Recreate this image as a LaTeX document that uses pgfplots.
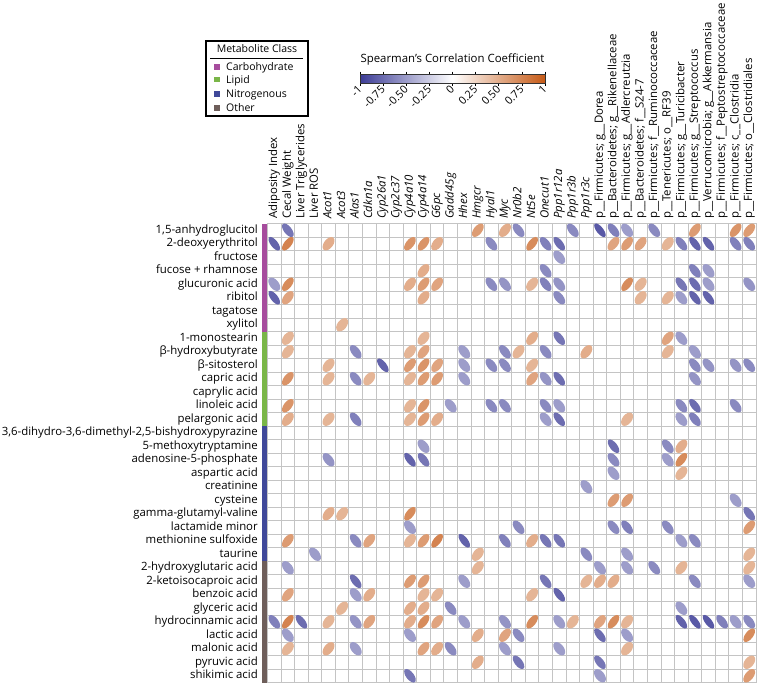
\documentclass[border=0pt]{standalone}
\usepackage{fontspec}
\setmainfont{Open Sans}
\usepackage{pgfplots}
\usepackage{pgfplotstable}
\pgfplotsset{compat=1.18}
\definecolor{gridgray}{RGB}{196,196,196}
\definecolor{carb}{RGB}{166,76,157}
\definecolor{lipid}{RGB}{122,182,72}
\definecolor{nitro}{RGB}{63,72,153}
\definecolor{other}{RGB}{110,94,90}
\newcommand{\lf}{\fontsize{10.5bp}{12bp}\selectfont}
\newcommand{\tf}{\fontsize{11.4bp}{13bp}\selectfont}
\newcommand{\cf}{\fontsize{10.8bp}{12bp}\selectfont}
\pgfdeclareplotmark{corrEll}{%
  \pgfpathellipse{\pgfpointorigin}%
    {\pgfpointpolar{\ellAng}{\ellA bp}}%
    {\pgfpointpolar{\ellAngB}{\ellB bp}}%
  \pgfusepathqfill}
\pgfplotstableread{
c rw r
2 1 -0.7
16 1 0.6
18 1 0.5
19 1 -0.6
23 1 -0.6
25 1 -0.85
26 1 -0.65
27 1 -0.5
29 1 -0.6
32 1 0.6
35 1 0.65
36 1 0.6
1 2 -0.8
2 2 0.75
5 2 0.5
11 2 0.65
12 2 0.65
13 2 0.5
17 2 -0.6
20 2 0.7
21 2 -0.65
22 2 -0.75
26 2 0.55
27 2 0.6
28 2 0.55
30 2 0.45
31 2 -0.65
32 2 -0.8
33 2 -0.8
35 2 -0.65
36 2 -0.65
22 3 -0.5
12 4 0.5
21 4 -0.6
32 4 -0.65
33 4 -0.5
1 5 -0.5
2 5 0.7
11 5 0.5
12 5 0.6
13 5 0.55
17 5 -0.6
18 5 -0.55
20 5 0.45
21 5 -0.65
22 5 -0.55
27 5 0.7
28 5 0.45
31 5 -0.7
32 5 -0.75
33 5 -0.5
36 5 -0.55
1 6 -0.8
2 6 0.55
12 6 0.5
22 6 -0.6
28 6 0.45
30 6 0.45
31 6 -0.5
32 6 -0.8
33 6 -0.8
6 8 0.45
2 9 0.45
12 9 0.45
20 9 0.5
22 9 -0.7
30 9 0.55
31 9 -0.5
2 10 0.45
7 10 -0.6
11 10 0.45
12 10 0.55
15 10 -0.5
18 10 -0.6
19 10 0.45
21 10 -0.6
24 10 0.5
30 10 0.45
32 10 -0.5
5 11 0.45
9 11 -0.8
11 11 0.6
12 11 0.65
13 11 0.55
15 11 -0.5
17 11 -0.6
18 11 -0.6
20 11 0.45
32 11 -0.6
33 11 -0.55
35 11 -0.55
36 11 -0.6
2 12 0.65
5 12 0.45
7 12 -0.6
8 12 0.45
11 12 0.45
12 12 0.6
13 12 0.6
15 12 -0.5
20 12 0.55
21 12 -0.55
22 12 -0.75
32 12 -0.55
2 14 0.65
11 14 0.45
12 14 0.65
14 14 -0.5
17 14 -0.6
18 14 -0.6
21 14 -0.6
22 14 -0.5
31 14 -0.6
32 14 -0.75
35 14 -0.6
2 15 0.5
5 15 0.45
7 15 -0.65
11 15 0.45
12 15 0.6
13 15 0.5
21 15 -0.5
22 15 -0.75
27 15 0.45
31 15 -0.5
32 15 -0.65
12 17 -0.5
26 17 -0.75
30 17 -0.6
31 17 0.5
5 18 -0.55
11 18 -0.8
12 18 -0.7
26 18 -0.6
30 18 -0.5
31 18 0.7
26 19 -0.5
31 19 0.45
24 20 -0.5
26 21 0.6
27 21 0.6
35 21 -0.5
5 22 0.5
6 22 0.45
11 22 0.7
36 22 -0.7
11 23 -0.5
19 23 -0.6
26 23 -0.6
27 23 -0.65
30 23 -0.6
36 23 0.6
2 24 0.6
7 24 -0.6
8 24 0.55
11 24 0.45
12 24 0.6
13 24 0.75
15 24 -0.8
18 24 -0.65
20 24 0.5
21 24 -0.7
22 24 -0.7
31 24 -0.5
32 24 -0.6
4 25 -0.5
16 25 0.45
24 25 -0.6
27 25 -0.5
36 25 0.45
2 26 -0.5
16 26 0.45
25 26 -0.5
27 26 -0.5
29 26 -0.6
31 26 0.45
36 26 0.45
7 27 -0.75
11 27 0.6
12 27 0.6
15 27 -0.5
21 27 -0.7
24 27 0.45
25 27 0.5
26 27 0.5
32 27 -0.6
36 27 -0.5
2 28 0.55
7 28 -0.5
8 28 0.5
12 28 0.45
13 28 0.45
20 28 0.45
22 28 -0.8
6 29 0.45
11 29 0.5
12 29 0.5
14 29 -0.6
31 29 -0.5
1 30 -0.65
2 30 0.75
3 30 -0.75
5 30 0.45
7 30 -0.55
8 30 0.55
11 30 0.5
12 30 0.7
13 30 0.55
15 30 -0.5
18 30 -0.55
20 30 0.7
22 30 -0.5
23 30 0.45
25 30 0.55
26 30 0.7
27 30 0.45
31 30 -0.8
32 30 -0.85
33 30 -0.85
34 30 -0.65
35 30 -0.5
36 30 -0.6
2 31 -0.5
11 31 -0.5
16 31 0.5
18 31 0.55
19 31 -0.6
25 31 -0.75
27 31 -0.5
36 31 0.7
2 32 0.45
5 32 0.5
7 32 -0.5
12 32 0.55
13 32 0.5
14 32 -0.6
18 32 -0.5
22 32 -0.5
27 32 0.45
16 33 0.5
19 33 -0.7
25 33 -0.7
36 33 0.45
11 34 -0.7
25 34 -0.5
36 34 0.6
}\corrdata
\begin{document}
\begin{tikzpicture}
\useasboundingbox (0,0) rectangle (757bp,-686bp);
% category bar
\fill[carb]  (262bp,-223.5bp) rectangle (266.5bp,-331.5bp);
\fill[lipid] (262bp,-331.5bp) rectangle (266.5bp,-426bp);
\fill[nitro] (262bp,-426bp) rectangle (266.5bp,-561bp);
\fill[other] (262bp,-561bp) rectangle (266.5bp,-682.5bp);
\begin{axis}[
  at={(511.75bp,-453bp)}, anchor=center,
  scale only axis, width=488.5bp, height=459bp,
  xmin=0.5, xmax=36.5, ymin=0.5, ymax=34.5, y dir=reverse,
  xtick={1,...,36}, ytick={1,...,34},
  minor xtick={0.5,1.5,...,36.5}, minor ytick={0.5,1.5,...,34.5},
  grid=minor, minor grid style={draw=gridgray, line width=0.9bp},
  major tick length=0pt, minor tick length=0pt,
  axis line style={draw=gridgray, line width=0.9bp},
  xticklabel pos=upper,
  xticklabels={Adiposity Index, Cecal Weight, Liver Triglycerides, Liver ROS,
    \textit{Acot1}, \textit{Acot3}, \textit{Alas1}, \textit{Cdkn1a}, \textit{Cyp26a1},
    \textit{Cyp2c37}, \textit{Cyp4a10}, \textit{Cyp4a14}, \textit{G6pc}, \textit{Gadd45g},
    \textit{Hhex}, \textit{Hmgcr}, \textit{Hyal1}, \textit{Myc}, \textit{Nr0b2},
    \textit{Nt5e}, \textit{Onecut1}, \textit{Ppp1r12a}, \textit{Ppp1r3b}, \textit{Ppp1r3c},
    p\_\_Firmicutes; g\_\_Dorea, p\_\_Bacteroidetes; g\_\_Rikenellaceae,
    p\_\_Firmicutes; g\_\_Adlercreutzia, p\_\_Bacteroidetes; f\_\_S24-7,
    p\_\_Firmicutes; f\_\_Ruminococcaceae, p\_\_Tenericutes; o\_\_RF39,
    p\_\_Firmicutes; g\_\_Turicibacter, p\_\_Firmicutes; g\_\_Streptococcus,
    p\_\_Verrucomicrobia; g\_\_Akkermansia, p\_\_Firmicutes; f\_\_Peptostreptococcaceae,
    p\_\_Firmicutes; c\_\_Clostridia, p\_\_Firmicutes; o\_\_Clostridiales},
  yticklabels={{1,5-anhydroglucitol}, 2-deoxyerythritol, fructose, fucose + rhamnose,
    glucuronic acid, ribitol, tagatose, xylitol, 1-monostearin, β-hydroxybutyrate,
    β-sitosterol, capric acid, caprylic acid, linoleic acid, pelargonic acid,
    {3,6-dihydro-3,6-dimethyl-2,5-bishydroxypyrazine}, 5-methoxytryptamine,
    adenosine-5-phosphate, aspartic acid, creatinine, cysteine, gamma-glutamyl-valine,
    lactamide minor, methionine sulfoxide, taurine, 2-hydroxyglutaric acid,
    2-ketoisocaproic acid, benzoic acid, glyceric acid, hydrocinnamic acid, lactic acid,
    malonic acid, pyruvic acid, shikimic acid},
  xticklabel style={font=\tf, rotate=90, anchor=west, inner sep=0pt, xshift=4.5bp,
    text height=8.2bp, text depth=2.4bp},
  yticklabel style={font=\tf, anchor=east, inner sep=0pt, xshift=-9.5bp,
    text height=8.2bp, text depth=2.4bp},
  colormap={corr}{rgb255(0cm)=(60,60,150); rgb255(1cm)=(255,255,255); rgb255(2cm)=(198,90,22)},
  point meta min=-1, point meta max=1,
  colorbar horizontal,
  colorbar style={
    at={(360bp,-74.7bp)}, anchor=south west,
    width=185bp, height=8.7bp, scale only axis,
    xticklabel pos=lower, y dir=normal, grid=none, minor xtick={}, minor ytick={},
    xtick={-1,-0.75,-0.5,-0.25,0,0.25,0.5,0.75,1},
    xticklabels={-1,-0.75,-0.50,-0.25,0,0.25,0.50,0.75,1},
    xticklabel style={font=\cf, rotate=45, anchor=east, inner sep=0pt, xshift=-1bp, yshift=-1bp},
    major tick length=3bp, tick align=outside, tick style={draw=black, line width=0.6bp},
    axis line style={draw=black!80, line width=0.6bp},
    title={Spearman’s Correlation Coefficient},
    title style={font=\tf, inner sep=0.5bp, yshift=2.5bp},
  },
]
\addplot[scatter, only marks, mark=corrEll, point meta=explicit,
  scatter/@pre marker code/.append code={%
    \pgfmathsetmacro\rr{\pgfplotspointmetatransformed/500-1}%
    \pgfmathsetmacro\absr{abs(\rr)}%
    \pgfmathsetmacro\ellA{7.0+1.5*\absr}%
    \pgfmathsetmacro\ellB{6.2-3.3*\absr}%
    \pgfmathsetmacro\ellAng{\rr>0 ? 52 : 128}%
    \pgfmathsetmacro\ellAngB{\ellAng+90}%
  }]
  table[x=c, y=rw, meta=r] {\corrdata};
\end{axis}
% legend
\draw[line width=1.3bp] (206bp,-41bp) rectangle (308bp,-116bp);
\node[font=\lf, anchor=base] at (257bp,-52.5bp) {Metabolite Class};
\draw[line width=0.8bp] (210bp,-58.3bp) -- (303bp,-58.3bp);
\fill[carb]  (214.3bp,-64.3bp) rectangle +(5.5bp,-5.5bp);
\fill[lipid] (214.3bp,-76.6bp) rectangle +(5.5bp,-5.5bp);
\fill[nitro] (214.3bp,-91bp) rectangle +(5.5bp,-5.5bp);
\fill[other] (214.3bp,-105bp) rectangle +(5.5bp,-5.5bp);
\node[font=\lf, anchor=base west, inner sep=0pt] at (226bp,-70.7bp) {Carbohydrate};
\node[font=\lf, anchor=base west, inner sep=0pt] at (226bp,-83bp) {Lipid};
\node[font=\lf, anchor=base west, inner sep=0pt] at (226bp,-97.4bp) {Nitrogenous};
\node[font=\lf, anchor=base west, inner sep=0pt] at (226bp,-111.4bp) {Other};
\end{tikzpicture}
\end{document}
